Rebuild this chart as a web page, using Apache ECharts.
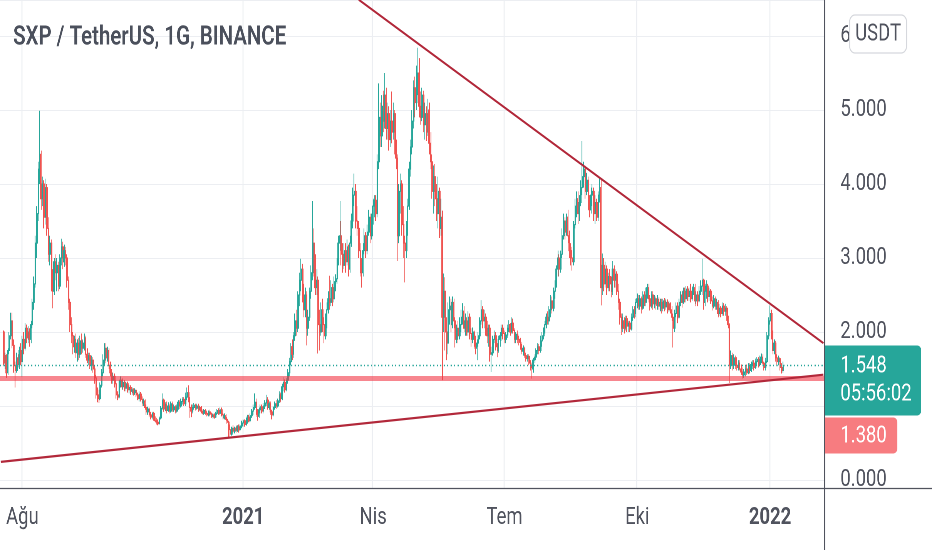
<!DOCTYPE html>
<html><head><meta charset="utf-8">
<script src="https://cdn.jsdelivr.net/npm/echarts@6/dist/echarts.min.js"></script>
<style>
html,body{margin:0;padding:0;overflow:hidden;background:#fff;width:932px;height:550px;}
#chart{width:1210px;height:550px;transform:scaleX(0.770248);transform-origin:0 0;}
</style></head><body><div id="chart"></div>
<script>
const titleText = 'SXP / TetherUS, 1G, BINANCE';
const currencyText = 'USDT';
const countdownText = '05:56:02';
const axisStart = '2020-07-17';
const axisEnd = '2022-02-07';
const firstCandleDate = '2020-07-19';
const tickDates = ['2020-08-01','2021-01-01','2021-04-01','2021-07-01','2021-10-01','2022-01-01'];
const tickTexts = ['Ağu','2021','Nis','Tem','Eki','2022'];
const boldTicks = ['2021','2022'];
const supportLevel = 1.380;
const upperTrend = [['2021-03-22', 6.49], ['2022-02-07', 1.849]];
const lowerTrend = [['2020-07-17', 0.245], ['2022-02-07', 1.423]];

// daily candles: [open, high, low, close]
const jul2020 = [[2.00,2.02,1.55,1.58],[1.58,1.72,1.50,1.68],[1.68,1.70,1.38,1.45],[1.45,1.78,1.42,1.75],[1.75,2.00,1.70,1.95],[1.95,2.26,1.90,2.15],[2.15,2.26,1.78,1.82],[1.82,1.90,1.45,1.55],[1.55,1.60,1.25,1.48],[1.48,1.72,1.45,1.65],[1.65,1.70,1.52,1.56],[1.56,1.80,1.50,1.75],[1.75,1.85,1.55,1.60]];
const aug2020 = [[1.60,1.95,1.39,1.90],[1.90,2.00,1.70,1.78],[1.78,2.12,1.75,2.05],[2.05,2.10,1.85,1.92],[1.92,2.08,1.85,2.00],[2.00,2.05,1.80,1.90],[1.90,2.15,1.85,2.10],[2.10,2.45,2.05,2.40],[2.40,2.75,2.30,2.65],[2.65,3.30,2.60,3.20],[3.20,3.70,3.00,3.60],[3.60,4.30,3.50,4.20],[4.20,4.99,4.00,4.40],[4.40,4.45,3.65,3.80],[3.80,4.10,3.70,4.00],[4.00,4.05,3.40,3.55],[3.55,4.07,3.45,3.95],[3.95,4.00,3.30,3.40],[3.40,3.55,2.95,3.05],[3.05,3.30,2.90,3.20],[3.20,3.25,2.55,2.70],[2.70,2.85,2.32,2.55],[2.55,3.00,2.50,2.95],[2.95,3.05,2.70,2.80],[2.80,3.00,2.55,2.90],[2.90,2.95,2.55,2.62],[2.62,3.05,2.58,3.00],[3.00,3.26,2.90,3.15],[3.15,3.22,2.85,2.95],[2.95,3.18,2.88,3.10],[3.10,3.15,2.90,3.00]];
const sep2020 = [[3.00,3.05,2.60,2.70],[2.70,2.75,2.30,2.40],[2.40,2.45,2.00,2.10],[2.10,2.20,1.85,1.95],[1.95,2.00,1.70,1.80],[1.80,1.95,1.72,1.90],[1.90,1.98,1.65,1.72],[1.72,1.90,1.60,1.85],[1.85,1.92,1.62,1.70],[1.70,1.95,1.65,1.88],[1.88,1.98,1.70,1.78],[1.78,1.90,1.72,1.85],[1.85,1.98,1.75,1.92],[1.92,1.95,1.65,1.70],[1.70,1.78,1.58,1.62],[1.62,1.72,1.55,1.68],[1.68,1.72,1.50,1.55],[1.55,1.68,1.48,1.62],[1.62,1.66,1.45,1.50],[1.50,1.55,1.30,1.38],[1.38,1.42,1.10,1.18],[1.18,1.25,1.05,1.15],[1.15,1.22,1.04,1.10],[1.10,1.32,1.08,1.28],[1.28,1.50,1.25,1.45],[1.45,1.70,1.40,1.62],[1.62,1.85,1.55,1.78],[1.78,1.85,1.58,1.65],[1.65,1.80,1.60,1.75],[1.75,1.78,1.50,1.55]];
const oct2020 = [[1.55,1.60,1.40,1.45],[1.45,1.50,1.30,1.35],[1.35,1.45,1.30,1.40],[1.40,1.44,1.25,1.30],[1.30,1.35,1.10,1.15],[1.15,1.20,1.08,1.12],[1.12,1.35,1.10,1.30],[1.30,1.40,1.25,1.35],[1.35,1.38,1.22,1.26],[1.26,1.36,1.22,1.32],[1.32,1.35,1.20,1.24],[1.24,1.33,1.20,1.30],[1.30,1.33,1.18,1.22],[1.22,1.28,1.17,1.25],[1.25,1.28,1.15,1.20],[1.20,1.25,1.15,1.22],[1.22,1.24,1.14,1.18],[1.18,1.24,1.15,1.21],[1.21,1.23,1.12,1.15],[1.15,1.18,1.08,1.10],[1.10,1.20,1.06,1.16],[1.16,1.19,1.06,1.09],[1.09,1.13,1.00,1.04],[1.04,1.10,1.00,1.07],[1.07,1.09,0.95,0.98],[0.98,1.02,0.88,0.92],[0.92,0.99,0.88,0.96],[0.96,0.98,0.85,0.88],[0.88,0.92,0.82,0.85],[0.85,0.92,0.82,0.90],[0.90,0.92,0.80,0.83]];
const nov2020 = [[0.83,0.86,0.78,0.80],[0.80,0.84,0.75,0.78],[0.78,0.82,0.74,0.76],[0.76,0.86,0.75,0.84],[0.84,1.00,0.82,0.97],[0.97,1.17,0.95,1.08],[1.08,1.10,0.92,0.96],[0.96,1.05,0.93,1.02],[1.02,1.06,0.90,0.94],[0.94,1.05,0.92,1.00],[1.00,1.03,0.90,0.93],[0.93,1.06,0.91,1.03],[1.03,1.06,0.92,0.95],[0.95,1.02,0.92,0.99],[0.99,1.01,0.90,0.93],[0.93,1.02,0.91,0.98],[0.98,1.08,0.95,1.05],[1.05,1.08,0.96,1.00],[1.00,1.10,0.98,1.06],[1.06,1.12,1.02,1.09],[1.09,1.12,1.00,1.03],[1.03,1.18,1.00,1.12],[1.12,1.25,1.08,1.18],[1.18,1.28,1.05,1.10],[1.10,1.12,0.84,0.98],[0.98,1.02,0.85,0.93],[0.93,1.02,0.90,0.98],[0.98,1.04,0.95,1.01],[1.01,1.03,0.94,0.97],[0.97,1.03,0.95,1.00]];
const dec2020 = [[1.00,1.03,0.92,0.95],[0.95,1.00,0.93,0.98],[0.98,1.00,0.90,0.93],[0.93,0.96,0.88,0.90],[0.90,0.96,0.88,0.94],[0.94,0.96,0.88,0.90],[0.90,0.93,0.86,0.88],[0.88,0.94,0.86,0.92],[0.92,0.95,0.86,0.89],[0.89,0.91,0.84,0.86],[0.86,0.90,0.83,0.88],[0.88,0.90,0.83,0.85],[0.85,0.92,0.84,0.90],[0.90,0.96,0.88,0.94],[0.94,0.97,0.88,0.90],[0.90,0.98,0.88,0.95],[0.95,0.98,0.86,0.88],[0.88,0.90,0.82,0.84],[0.84,0.90,0.82,0.87],[0.87,0.89,0.80,0.82],[0.82,0.85,0.76,0.78],[0.78,0.80,0.57,0.68],[0.68,0.75,0.58,0.62],[0.62,0.72,0.60,0.70],[0.70,0.74,0.64,0.66],[0.66,0.72,0.63,0.70],[0.70,0.74,0.64,0.67],[0.67,0.74,0.65,0.72],[0.72,0.75,0.64,0.68],[0.68,0.75,0.66,0.73],[0.73,0.80,0.70,0.77]];
const jan2021 = [[0.77,0.82,0.72,0.80],[0.80,0.82,0.72,0.75],[0.75,0.84,0.73,0.82],[0.82,0.88,0.76,0.85],[0.85,0.88,0.78,0.80],[0.80,0.90,0.78,0.87],[0.87,0.96,0.84,0.93],[0.93,1.02,0.88,0.98],[0.98,1.17,0.95,1.05],[1.05,1.10,0.88,0.92],[0.92,0.96,0.80,0.86],[0.86,0.98,0.84,0.95],[0.95,1.02,0.90,0.99],[0.99,1.02,0.90,0.93],[0.93,1.04,0.90,1.00],[1.00,1.08,0.96,1.04],[1.04,1.15,1.00,1.08],[1.08,1.12,0.95,0.98],[0.98,1.06,0.95,1.03],[1.03,1.06,0.88,0.92],[0.92,0.95,0.82,0.88],[0.88,1.00,0.86,0.98],[0.98,1.06,0.95,1.03],[1.03,1.08,0.96,1.00],[1.00,1.10,0.98,1.07],[1.07,1.20,1.04,1.15],[1.15,1.18,1.05,1.10],[1.10,1.30,1.08,1.26],[1.26,1.39,1.20,1.32],[1.32,1.36,1.18,1.22],[1.22,1.38,1.20,1.35]];
const feb2021 = [[1.35,1.50,1.30,1.45],[1.45,1.65,1.40,1.60],[1.60,1.85,1.55,1.80],[1.80,1.90,1.62,1.70],[1.70,2.00,1.65,1.95],[1.95,2.25,1.88,2.15],[2.15,2.30,1.95,2.05],[2.05,2.55,2.00,2.50],[2.50,2.80,2.35,2.70],[2.70,2.99,2.55,2.85],[2.85,2.92,2.40,2.50],[2.50,2.65,2.20,2.30],[2.30,2.60,2.20,2.50],[2.50,2.55,1.82,2.05],[2.05,2.30,1.95,2.20],[2.20,2.60,2.15,2.55],[2.55,2.90,2.45,2.80],[2.80,3.77,2.70,3.20],[3.20,3.40,2.75,2.90],[2.90,3.05,2.50,2.60],[2.60,2.85,2.50,2.70],[2.70,2.75,1.71,2.10],[2.10,2.30,1.75,2.00],[2.00,2.40,1.95,2.30],[2.30,2.45,2.00,2.10],[2.10,2.20,1.85,1.95],[1.95,2.25,1.90,2.15],[2.15,2.40,2.05,2.30]];
const mar2021 = [[2.30,2.55,2.25,2.45],[2.45,2.76,2.30,2.40],[2.40,2.70,2.35,2.60],[2.60,2.65,2.35,2.45],[2.45,2.75,2.40,2.68],[2.68,2.78,2.55,2.72],[2.72,3.00,2.65,2.95],[2.95,3.30,2.90,3.20],[3.20,3.77,3.10,3.30],[3.30,3.50,2.90,3.05],[3.05,3.20,2.80,2.90],[2.90,3.20,2.85,3.10],[3.10,3.20,2.80,2.95],[2.95,3.25,2.90,3.15],[3.15,3.18,2.75,2.85],[2.85,3.30,2.80,3.20],[3.20,3.60,3.15,3.50],[3.50,3.95,3.40,3.85],[3.85,4.14,3.70,3.90],[3.90,4.00,3.40,3.50],[3.50,3.70,3.30,3.40],[3.40,3.50,3.00,3.10],[3.10,3.20,2.75,2.85],[2.85,3.00,2.60,2.80],[2.80,3.20,2.75,3.10],[3.10,3.40,3.05,3.30],[3.30,3.35,3.00,3.10],[3.10,3.45,3.05,3.35],[3.35,3.65,3.30,3.55],[3.55,3.60,3.20,3.30],[3.30,3.60,3.25,3.50]];
const apr2021 = [[3.50,3.80,3.45,3.70],[3.70,3.85,3.55,3.78],[3.78,3.85,3.50,3.60],[3.60,4.40,3.55,4.30],[4.30,5.36,4.20,4.90],[4.90,5.10,4.50,4.65],[4.65,5.20,4.50,5.05],[5.05,5.26,4.70,4.85],[4.85,5.50,4.75,5.20],[5.20,5.30,4.60,4.75],[4.75,5.10,4.60,4.95],[4.95,5.05,4.45,4.60],[4.60,5.00,4.50,4.85],[4.85,5.25,4.55,4.70],[4.70,5.10,4.60,4.95],[4.95,5.00,4.40,4.50],[4.50,4.60,4.20,4.35],[4.35,4.40,2.96,3.30],[3.30,4.00,3.20,3.90],[3.90,4.14,3.60,4.00],[4.00,4.05,3.30,3.45],[3.45,3.70,3.00,3.20],[3.20,3.30,2.67,3.10],[3.10,3.50,3.00,3.40],[3.40,3.80,3.30,3.70],[3.70,4.30,3.65,4.20],[4.20,4.60,4.10,4.50],[4.50,5.00,4.40,4.85],[4.85,5.40,4.75,5.30],[5.30,5.45,4.90,5.10]];
const may2021 = [[5.10,5.60,5.00,5.45],[5.45,5.84,5.20,5.50],[5.50,5.70,4.90,5.05],[5.05,5.25,4.80,4.90],[4.90,5.30,4.85,5.20],[5.20,5.26,4.70,4.80],[4.80,5.10,4.60,4.95],[4.95,5.05,4.58,4.70],[4.70,5.15,4.65,5.00],[5.00,5.10,4.40,4.55],[4.55,4.70,4.20,4.30],[4.30,4.40,3.80,3.90],[3.90,4.25,3.60,4.10],[4.10,4.27,3.70,3.80],[3.80,4.00,3.50,3.60],[3.60,4.10,3.40,3.90],[3.90,3.95,3.27,3.40],[3.40,3.80,3.30,3.55],[3.55,3.64,1.35,2.20],[2.20,2.79,2.00,2.55],[2.55,2.74,1.75,2.00],[2.00,2.20,1.62,1.85],[1.85,2.40,1.70,2.30],[2.30,2.48,2.10,2.35],[2.35,2.45,2.00,2.10],[2.10,2.48,2.05,2.40],[2.40,2.45,2.05,2.15],[2.15,2.20,1.79,1.90],[1.90,2.10,1.85,2.05],[2.05,2.15,1.85,1.95],[1.95,2.20,1.90,2.10]];
const jun2021 = [[2.10,2.30,2.00,2.20],[2.20,2.39,2.10,2.28],[2.28,2.35,2.00,2.05],[2.05,2.25,1.95,2.15],[2.15,2.20,1.95,2.00],[2.00,2.28,1.95,2.20],[2.20,2.25,1.90,1.98],[1.98,2.05,1.80,1.90],[1.90,2.06,1.85,2.00],[2.00,2.02,1.80,1.85],[1.85,1.95,1.70,1.78],[1.78,1.90,1.62,1.85],[1.85,2.00,1.80,1.95],[1.95,2.20,1.90,2.15],[2.15,2.43,2.10,2.30],[2.30,2.35,2.05,2.15],[2.15,2.30,2.05,2.20],[2.20,2.25,1.95,2.05],[2.05,2.15,1.85,1.95],[1.95,2.10,1.80,2.05],[2.05,2.10,1.60,1.70],[1.70,1.80,1.46,1.72],[1.72,1.95,1.68,1.90],[1.90,2.02,1.85,1.95],[1.95,2.00,1.75,1.80],[1.80,1.85,1.66,1.75],[1.75,1.95,1.72,1.90],[1.90,2.00,1.80,1.95],[1.95,2.10,1.88,2.05],[2.05,2.10,1.90,1.98]];
const jul2021 = [[1.98,2.02,1.85,1.90],[1.90,2.00,1.85,1.96],[1.96,2.10,1.92,2.05],[2.05,2.16,2.00,2.10],[2.10,2.12,1.95,2.00],[2.00,2.20,1.98,2.12],[2.12,2.18,1.98,2.02],[2.02,2.05,1.85,1.90],[1.90,2.00,1.85,1.97],[1.97,2.02,1.85,1.90],[1.90,1.95,1.82,1.86],[1.86,1.92,1.76,1.80],[1.80,1.84,1.70,1.74],[1.74,1.82,1.68,1.78],[1.78,1.80,1.65,1.68],[1.68,1.72,1.60,1.64],[1.64,1.70,1.60,1.67],[1.67,1.70,1.55,1.58],[1.58,1.62,1.48,1.52],[1.52,1.56,1.37,1.50],[1.50,1.65,1.45,1.62],[1.62,1.70,1.58,1.66],[1.66,1.78,1.62,1.75],[1.75,1.85,1.70,1.80],[1.80,1.84,1.70,1.75],[1.75,1.95,1.72,1.88],[1.88,2.00,1.80,1.95],[1.95,2.06,1.90,2.02],[2.02,2.15,1.98,2.10],[2.10,2.25,2.05,2.20],[2.20,2.28,2.10,2.15]];
const aug2021 = [[2.15,2.35,2.10,2.30],[2.30,2.50,2.20,2.42],[2.42,2.48,2.25,2.32],[2.32,2.60,2.28,2.55],[2.55,2.70,2.45,2.65],[2.65,2.90,2.60,2.85],[2.85,3.10,2.75,3.00],[3.00,3.05,2.75,2.85],[2.85,3.10,2.80,3.05],[3.05,3.40,3.00,3.30],[3.30,3.60,3.25,3.50],[3.50,3.55,3.25,3.35],[3.35,3.60,3.30,3.55],[3.55,3.65,3.20,3.30],[3.30,3.37,3.00,3.10],[3.10,3.20,2.90,3.00],[3.00,3.15,2.83,2.95],[2.95,3.50,2.90,3.45],[3.45,3.80,3.40,3.70],[3.70,3.90,3.55,3.80],[3.80,3.90,3.46,3.60],[3.60,3.85,3.50,3.75],[3.75,4.05,3.70,3.95],[3.95,4.58,3.85,4.10],[4.10,4.30,3.95,4.20],[4.20,4.25,3.80,3.90],[3.90,4.15,3.85,4.05],[4.05,4.10,3.65,3.75],[3.75,3.85,3.55,3.65],[3.65,3.95,3.60,3.85],[3.85,4.00,3.70,3.90]];
const sep2021 = [[3.90,3.95,3.50,3.60],[3.60,3.85,3.46,3.75],[3.75,3.80,3.50,3.55],[3.55,3.90,3.50,3.85],[3.85,4.08,3.75,3.95],[3.95,4.05,2.36,2.60],[2.60,3.06,2.50,2.90],[2.90,3.00,2.55,2.65],[2.65,2.95,2.60,2.85],[2.85,2.90,2.50,2.60],[2.60,2.80,2.55,2.75],[2.75,2.85,2.55,2.65],[2.65,2.75,2.47,2.55],[2.55,2.96,2.50,2.85],[2.85,2.90,2.60,2.70],[2.70,2.85,2.60,2.78],[2.78,2.82,2.50,2.55],[2.55,2.65,2.30,2.40],[2.40,2.45,2.10,2.20],[2.20,2.25,1.96,2.05],[2.05,2.25,2.00,2.15],[2.15,2.20,1.98,2.05],[2.05,2.22,2.02,2.18],[2.18,2.22,2.00,2.08],[2.08,2.15,2.00,2.12],[2.12,2.15,2.00,2.04],[2.04,2.25,2.02,2.20],[2.20,2.35,2.15,2.30],[2.30,2.35,2.18,2.25],[2.25,2.45,2.20,2.40]];
const oct2021 = [[2.40,2.52,2.32,2.45],[2.45,2.50,2.30,2.35],[2.35,2.50,2.30,2.45],[2.45,2.48,2.25,2.32],[2.32,2.55,2.30,2.50],[2.50,2.55,2.35,2.40],[2.40,2.60,2.35,2.55],[2.55,2.65,2.45,2.60],[2.60,2.65,2.40,2.45],[2.45,2.50,2.29,2.35],[2.35,2.55,2.32,2.50],[2.50,2.55,2.30,2.38],[2.38,2.50,2.32,2.45],[2.45,2.48,2.30,2.36],[2.36,2.50,2.30,2.44],[2.44,2.47,2.30,2.35],[2.35,2.45,2.28,2.40],[2.40,2.45,2.25,2.32],[2.32,2.45,2.28,2.42],[2.42,2.46,2.28,2.34],[2.34,2.45,2.30,2.40],[2.40,2.44,2.25,2.30],[2.30,2.42,2.27,2.38],[2.38,2.40,2.25,2.30],[2.30,2.35,2.15,2.20],[2.20,2.25,1.79,2.05],[2.05,2.30,2.00,2.25],[2.25,2.40,2.20,2.35],[2.35,2.40,2.12,2.20],[2.20,2.45,2.18,2.40],[2.40,2.55,2.35,2.50]];
const nov2021 = [[2.50,2.55,2.33,2.40],[2.40,2.60,2.38,2.55],[2.55,2.60,2.40,2.45],[2.45,2.62,2.40,2.58],[2.58,2.62,2.42,2.48],[2.48,2.60,2.42,2.55],[2.55,2.65,2.40,2.45],[2.45,2.62,2.42,2.58],[2.58,2.65,2.50,2.60],[2.60,2.65,2.35,2.42],[2.42,2.55,2.38,2.50],[2.50,2.55,2.35,2.42],[2.42,2.62,2.40,2.55],[2.55,2.70,2.50,2.62],[2.62,2.99,2.50,2.70],[2.70,2.72,2.30,2.40],[2.40,2.65,2.35,2.55],[2.55,2.70,2.45,2.62],[2.62,2.65,2.40,2.48],[2.48,2.60,2.42,2.55],[2.55,2.58,2.38,2.42],[2.42,2.48,2.29,2.35],[2.35,2.50,2.32,2.45],[2.45,2.48,2.30,2.35],[2.35,2.45,2.30,2.40],[2.40,2.43,2.20,2.25],[2.25,2.38,2.22,2.32],[2.32,2.35,2.20,2.25],[2.25,2.40,2.22,2.35],[2.35,2.39,2.22,2.28]];
const dec2021 = [[2.28,2.38,2.22,2.32],[2.32,2.35,2.15,2.20],[2.20,2.22,2.05,2.10],[2.10,2.12,1.31,1.55],[1.55,1.75,1.50,1.68],[1.68,1.72,1.48,1.55],[1.55,1.70,1.50,1.65],[1.65,1.68,1.50,1.55],[1.55,1.66,1.48,1.52],[1.52,1.62,1.48,1.58],[1.58,1.62,1.48,1.50],[1.50,1.56,1.42,1.46],[1.46,1.52,1.37,1.42],[1.42,1.50,1.38,1.46],[1.46,1.55,1.40,1.50],[1.50,1.56,1.42,1.45],[1.45,1.58,1.43,1.54],[1.54,1.58,1.44,1.48],[1.48,1.60,1.46,1.56],[1.56,1.62,1.50,1.58],[1.58,1.62,1.48,1.52],[1.52,1.64,1.50,1.60],[1.60,1.66,1.55,1.63],[1.63,1.66,1.52,1.56],[1.56,1.68,1.54,1.64],[1.64,1.71,1.58,1.66],[1.66,1.70,1.54,1.58],[1.58,1.60,1.48,1.52],[1.52,1.65,1.48,1.60],[1.60,2.00,1.58,1.95],[1.95,2.20,1.90,2.15]];
const jan2022 = [[2.15,2.36,2.10,2.25],[2.25,2.30,1.90,1.98],[1.98,2.02,1.70,1.75],[1.75,1.90,1.70,1.85],[1.85,1.88,1.60,1.65],[1.65,1.70,1.55,1.60],[1.60,1.68,1.55,1.64],[1.64,1.66,1.48,1.52],[1.52,1.58,1.44,1.48],[1.48,1.60,1.45,1.548]];

const candles = [].concat(jul2020, aug2020, sep2020, oct2020, nov2020, dec2020, jan2021, feb2021, mar2021, apr2021, may2021, jun2021, jul2021, aug2021, sep2021, oct2021, nov2021, dec2021, jan2022);

function dayList(a, b) {
  const out = [];
  let t = Date.parse(a + 'T00:00:00Z');
  const e = Date.parse(b + 'T00:00:00Z');
  while (t <= e) { out.push(new Date(t).toISOString().slice(0, 10)); t += 86400000; }
  return out;
}
const categories = dayList(axisStart, axisEnd);
const startIdx = categories.indexOf(firstCandleDate);
const seriesData = categories.map((d, i) => {
  const c = candles[i - startIdx];
  return c ? [c[0], c[3], c[2], c[1]] : '-';
});
const lastClose = candles[candles.length - 1][3];
const tickMap = {};
tickDates.forEach((d, i) => { tickMap[d] = tickTexts[i]; });

const W = 1210, H = 550;
const gridRight = 140, gridBottom = 62;
const PR = W - gridRight;
const PB = H - gridBottom;
const FONT = 'Roboto, "Noto Sans", sans-serif';
const TXT = '#50535e';
const UP = '#26a69a', DOWN = '#ef5350';

const chart = echarts.init(document.getElementById('chart'), null, { renderer: 'canvas', devicePixelRatio: 2 });

chart.setOption({
  animation: false,
  backgroundColor: '#ffffff',
  title: {
    text: titleText, left: 17, top: 21, padding: 0,
    textStyle: { fontSize: 26.5, fontWeight: 600, color: '#4b505c', fontFamily: FONT, lineHeight: 34 }
  },
  grid: { left: 0, right: gridRight, top: 0, bottom: gridBottom, containLabel: false },
  xAxis: {
    type: 'category', data: categories, boundaryGap: true,
    axisLine: { show: false }, axisTick: { show: false },
    axisLabel: {
      interval: (i, v) => v in tickMap,
      formatter: v => { const t = tickMap[v]; if (!t) return ''; return boldTicks.includes(t) ? '{b|' + t + '}' : t; },
      color: TXT, fontSize: 24, fontFamily: FONT, margin: 18,
      rich: { b: { fontWeight: 'bold', fontSize: 24, color: TXT, fontFamily: FONT } }
    },
    splitLine: { show: true, interval: (i, v) => v in tickMap, lineStyle: { color: '#eceef2', width: 1.3 } }
  },
  yAxis: {
    type: 'value', position: 'right', min: -0.108, max: 6.486, splitNumber: 6,
    axisLine: { show: false }, axisTick: { show: false },
    axisLabel: {
      margin: 21, color: TXT, fontSize: 24, fontFamily: FONT,
      formatter: v => (Math.abs(v - Math.round(v)) < 1e-6 ? v.toFixed(3) : '')
    },
    splitLine: { lineStyle: { color: '#eceef2', width: 1 } }
  },
  series: [
    {
      type: 'candlestick', name: 'SXP', data: seriesData, barWidth: '80%',
      itemStyle: { color: UP, color0: DOWN, borderColor: UP, borderColor0: DOWN, borderWidth: 1 },
      markLine: {
        silent: true, symbol: ['none', 'none'], animation: false,
        label: { show: false },
        data: [
          { yAxis: lastClose, lineStyle: { color: UP, width: 1.4, type: [1.5, 3] } },
          { yAxis: supportLevel, lineStyle: { color: 'rgba(242,54,69,0.6)', width: 5, type: 'solid' } }
        ]
      }
    },
    {
      type: 'line', name: 'upper', data: upperTrend, symbol: 'none', silent: true, z: 5,
      lineStyle: { color: '#b2283a', width: 2.2 }
    },
    {
      type: 'line', name: 'lower', data: lowerTrend, symbol: 'none', silent: true, z: 5,
      lineStyle: { color: '#b2283a', width: 2.2 }
    }
  ]
});

const yLast = chart.convertToPixel({ yAxisIndex: 0 }, lastClose);
chart.setOption({
  graphic: [
    { type: 'rect', z: 100, silent: true, shape: { x: PR + 1, y: PB + 1, width: W - PR, height: H - PB }, style: { fill: '#ffffff' } },
    { type: 'line', z: 101, silent: true, shape: { x1: 0, y1: PB + 0.5, x2: W, y2: PB + 0.5 }, style: { stroke: TXT, lineWidth: 1.2 } },
    { type: 'line', z: 101, silent: true, shape: { x1: PR + 0.6, y1: 0, x2: PR + 0.6, y2: H }, style: { stroke: TXT, lineWidth: 1.4 } },
    { type: 'rect', z: 102, silent: true, shape: { x: 1103, y: 15, width: 74, height: 38, r: 7 }, style: { fill: '#ffffff', stroke: '#d6d8dd', lineWidth: 1.3 } },
    { type: 'text', z: 103, silent: true, style: { text: currencyText, x: 1140, y: 34.5, fill: TXT, fontSize: 24, fontFamily: FONT, align: 'center', verticalAlign: 'middle' } },
    { type: 'rect', z: 102, silent: true, shape: { x: PR + 1, y: yLast - 20, width: 125, height: 70, r: [0, 5, 5, 0] }, style: { fill: UP } },
    { type: 'text', z: 103, silent: true, style: { text: lastClose.toFixed(3), x: 1091, y: yLast + 1, fill: '#ffffff', fontSize: 24, fontFamily: FONT, align: 'left', verticalAlign: 'middle' } },
    { type: 'text', z: 103, silent: true, style: { text: countdownText, x: 1091, y: yLast + 29, fill: '#ffffff', fontSize: 24, fontFamily: FONT, align: 'left', verticalAlign: 'middle' } },
    { type: 'rect', z: 102, silent: true, shape: { x: PR + 1, y: yLast + 52, width: 94, height: 36, r: [0, 5, 5, 0] }, style: { fill: '#f77c80' } },
    { type: 'text', z: 103, silent: true, style: { text: supportLevel.toFixed(3), x: 1091, y: yLast + 71, fill: '#ffffff', fontSize: 24, fontFamily: FONT, align: 'left', verticalAlign: 'middle' } }
  ]
});
</script></body></html>
